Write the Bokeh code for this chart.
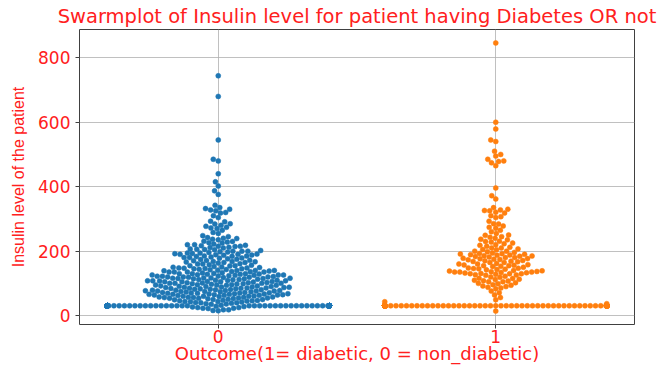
import numpy as np
from bokeh.plotting import figure
from bokeh.models import FixedTicker, Range1d, ColumnDataSource
from bokeh.embed import file_html
from bokeh.resources import INLINE

# ---------------- data ----------------
categories = ["0", "1"]
tick_values = [0, 200, 400, 600, 800]
zero_fill_value = 30.5          # zeros replaced by 30.5
zero_count_0 = 200
zero_count_1 = 118

insulin_0 = [
    15, 16, 18, 18, 22, 23, 23, 25, 25, 27, 28, 29,
    32, 35, 36, 37, 38, 40, 40, 41, 42, 43, 44, 44, 45, 46, 46, 47, 48, 49,
    50, 50, 51, 52, 53, 54, 54, 55, 55, 56, 56, 57, 57, 58, 58, 59, 60, 60,
    60, 61, 62, 63, 63, 64, 64, 65, 65, 66, 66, 67, 67, 68, 68, 69, 69, 66,
    70, 70, 71, 72, 72, 73, 74, 74, 75, 75, 76, 76, 76, 77, 78, 78, 79, 79,
    80, 80, 81, 82, 82, 83, 83, 84, 85, 85, 86, 86, 87, 87, 88, 88, 89, 89,
    90, 90, 91, 92, 92, 94, 94, 95, 95, 96, 96, 97, 99, 99, 100, 100, 100,
    100, 102, 102, 104, 105, 105, 105, 106, 106, 107, 108, 108, 108, 109,
    103, 101, 98,
    110, 110, 112, 112, 114, 115, 115, 116, 116, 117, 119, 120, 120, 120,
    122, 122, 125, 125, 126, 126, 127, 128, 129, 111, 113, 118, 121, 123,
    124, 119, 114, 117, 126, 128,
    130, 130, 132, 135, 135, 135, 135, 140, 140, 140, 142, 144, 145, 145,
    146, 148, 148, 130, 133, 138, 141, 143, 131, 136, 137, 139, 147, 149,
    150, 152, 155, 155, 156, 158, 160, 160, 161, 165, 165, 166, 168, 168,
    151, 154, 163, 167,
    170, 171, 175, 176, 178, 180, 180, 182, 183, 185, 185, 188, 174, 187,
    172, 179, 184, 189,
    190, 191, 192, 193, 194, 196, 200, 200, 204, 205, 207, 198,
    190, 194, 197, 200, 202, 206,
    210, 212, 215, 215, 217, 220, 220, 225, 228, 211, 214, 218, 222, 226,
    230, 231, 235, 237, 240, 245, 255, 258, 239, 242, 248,
    265, 270, 272, 274, 277, 280, 284, 285, 291, 293,
    304, 310, 318, 320, 325, 328, 330, 332, 335, 342,
    376, 387, 402, 415, 440, 480, 485, 545, 680, 744,
]

insulin_1 = [
    14,
    37, 43, 49, 56, 64, 71, 76,
    83, 86, 88, 90, 92, 94, 96, 99,
    100, 105, 105, 108, 110, 112, 115, 116, 119, 102, 107, 113,
    120, 122, 125, 126, 128, 130, 130, 132, 135, 135, 135, 137, 138, 139,
    127, 130, 131, 133, 134, 136,
    140, 142, 144, 145, 146, 148, 150, 152, 155, 155, 156, 158, 143, 147,
    153, 157,
    160, 160, 165, 167, 168, 170, 171, 175, 176, 178, 165, 173, 162, 169,
    174, 177,
    180, 180, 182, 184, 185, 187, 190, 191, 192, 194, 196, 198, 183, 186,
    188, 189, 193,
    200, 200, 204, 205, 207, 210, 210, 215, 218, 212,
    220, 225, 228, 230, 231, 235, 237, 223,
    240, 243, 245, 249, 250, 255,
    260, 265, 271, 274, 278,
    284, 285, 293,
    304, 307, 310, 318,
    321, 325, 326, 328, 330, 335,
    362, 372, 396,
    465, 474, 478, 480, 485, 495, 500, 510, 540, 545, 579, 600, 846,
]

colors = ["#1f77b4", "#ff7f0e"]

# ---------------- layout constants ----------------
W, H = 658, 367
LEFT, RIGHT, TOP, BOTTOM = 79, 24, 27, 43
X0, X1 = -0.5, 1.5
Y0, Y1 = -27.6, 887.6
FRAME_W = W - LEFT - RIGHT
FRAME_H = H - TOP - BOTTOM
XPX = FRAME_W / (X1 - X0)
YPX = FRAME_H / (Y1 - Y0)
RADIUS = 2.5
HALF_WIDTH = 0.4


def beeswarm(values, center):
    """seaborn-like beeswarm in pixel space; returns x (data) and y (data)."""
    y_sorted = np.sort(np.asarray(values, dtype=float))
    ypx = y_sorted * YPX
    n = len(ypx)
    px = np.zeros(n)
    two_r = 2 * RADIUS
    for i in range(1, n):
        yi = ypx[i]
        lo = np.searchsorted(ypx[:i], yi - two_r, side="right")
        nx = px[lo:i]
        ny = ypx[lo:i]
        if len(nx) == 0:
            px[i] = 0.0
            continue
        dy = yi - ny
        dx = np.sqrt(np.maximum(two_r ** 2 - dy ** 2, 0)) * 1.05
        cands = [0.0]
        left_first = True
        for xj, dxj in zip(nx, dx):
            if left_first:
                cands.extend([xj - dxj, xj + dxj])
            else:
                cands.extend([xj + dxj, xj - dxj])
            left_first = not left_first
        cands = np.array(cands)
        cands = cands[np.argsort(np.abs(cands), kind="stable")]
        d2 = (cands[:, None] - nx[None, :]) ** 2 + (yi - ny[None, :]) ** 2
        ok = np.all(d2 >= two_r ** 2 - 1e-9, axis=1)
        px[i] = cands[np.argmax(ok)]
    gutter = HALF_WIDTH * XPX
    px = np.clip(px, -gutter, gutter)
    return center + px / XPX, y_sorted


p = figure(width=W, height=H, output_backend="svg", toolbar_location=None,
           x_range=Range1d(X0, X1), y_range=Range1d(Y0, Y1),
           min_border_left=LEFT, min_border_right=RIGHT,
           min_border_top=TOP, min_border_bottom=BOTTOM,
           title="Swarmplot of Insulin level for patient having Diabetes OR not")

p.background_fill_color = "white"
p.border_fill_color = "white"
p.outline_line_color = "#404040"
p.outline_line_width = 1

p.title.text_color = "#ff2020"
p.title.text_font = "DejaVu Sans"
p.title.text_font_size = "19.5px"
p.title.text_font_style = "normal"
p.title.align = "center"
p.title.standoff = 4
p.title.offset = 0

p.xaxis.ticker = FixedTicker(ticks=[0, 1])
p.xaxis.major_label_overrides = {0: categories[0], 1: categories[1]}
p.yaxis.ticker = FixedTicker(ticks=tick_values)
p.xgrid.ticker = FixedTicker(ticks=[0, 1])

for ax in (p.xaxis[0], p.yaxis[0]):
    ax.axis_line_color = None
    ax.major_tick_line_color = "#404040"
    ax.major_tick_out = 4
    ax.major_tick_in = 0
    ax.minor_tick_line_color = None
    ax.major_label_text_color = "#ff2020"
    ax.major_label_text_font = "DejaVu Sans"
    ax.major_label_text_font_size = "17px"
    ax.axis_label_text_color = "#ff2020"
    ax.axis_label_text_font_style = "normal"

p.xaxis.axis_label = "Outcome(1= diabetic, 0 = non_diabetic)"
p.xaxis.axis_label_text_font = "DejaVu Sans"
p.xaxis.axis_label_text_font_size = "18px"
p.xaxis.major_label_standoff = 1
p.xaxis.axis_label_standoff = -3

p.yaxis.axis_label = "Insulin level of the patient"
p.yaxis.axis_label_text_font = "Liberation Sans"
p.yaxis.axis_label_text_font_size = "16px"
p.yaxis.major_label_standoff = 5
p.yaxis.axis_label_standoff = 8

for g in (p.xgrid[0], p.ygrid[0]):
    g.grid_line_color = "#b0b0b0"
    g.grid_line_width = 1
    g.grid_line_alpha = 0.8

series = [
    insulin_0 + [zero_fill_value] * zero_count_0,
    insulin_1 + [zero_fill_value] * zero_count_1,
]
for k, vals in enumerate(series):
    xs, ys = beeswarm(vals, k)
    src = ColumnDataSource(dict(x=xs, y=ys))
    p.scatter("x", "y", source=src, size=5, fill_color=colors[k],
              line_color=colors[k], line_width=0.5)

open("out.html", "w").write(file_html(p, INLINE))
